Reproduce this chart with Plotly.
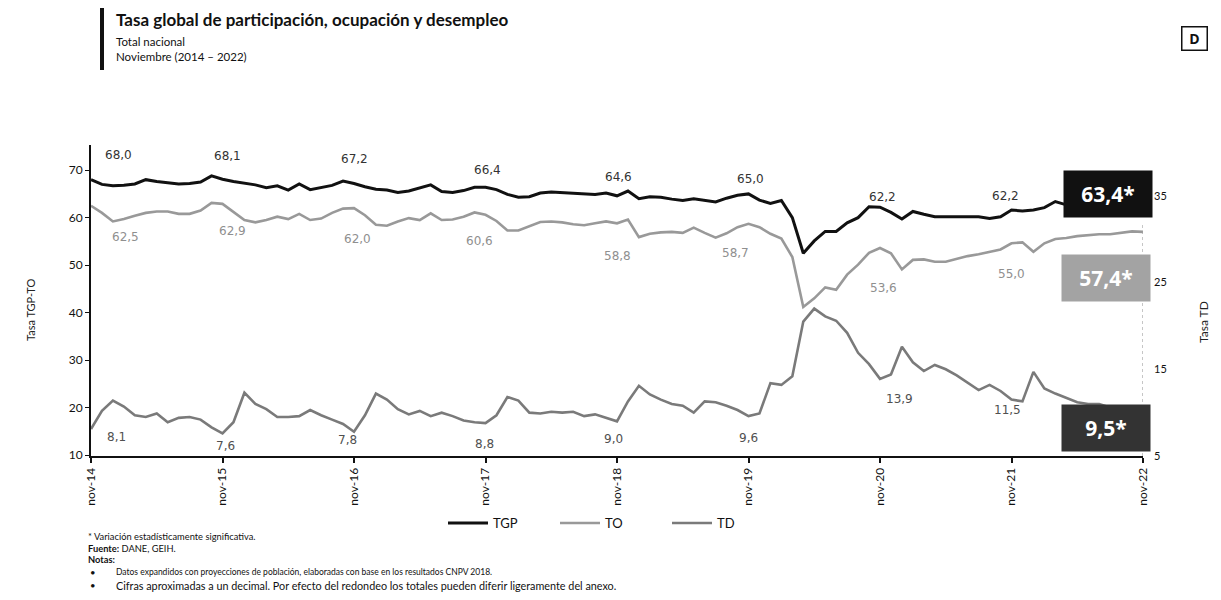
import plotly.graph_objects as go

# ---------------- data ----------------
months = ["ene", "feb", "mar", "abr", "may", "jun", "jul", "ago", "sep", "oct", "nov", "dic"]
periods = []
y, m = 2014, 10
for _ in range(97):
    periods.append(f"{months[m]}-{str(y)[2:]}")
    m += 1
    if m == 12:
        m, y = 0, y + 1

tgp = [68.0, 67.0, 66.7, 66.8, 67.1, 68.0, 67.6, 67.4, 67.1, 67.2, 67.5, 68.8, 68.1, 67.6, 67.3, 66.9,
       66.3, 66.7, 65.8, 67.1, 65.9, 66.3, 66.8, 67.7, 67.2, 66.5, 66.0, 65.8, 65.3, 65.6, 66.3, 66.9, 65.5,
       65.3, 65.7, 66.4, 66.4, 65.9, 64.9, 64.3, 64.4, 65.2, 65.4, 65.3, 65.1, 65.0, 64.9, 65.2, 64.6,
       65.6, 64.0, 64.4, 64.3, 63.9, 63.6, 64.0, 63.6, 63.3, 64.1, 64.7, 65.0,
       63.7, 63.0, 63.6, 60.0, 52.5, 55.1, 57.1, 57.1, 58.9, 60.0, 62.3, 62.2,
       61.1, 59.7, 61.3, 60.7, 60.2, 60.2, 60.2, 60.3, 60.2, 59.8, 60.2, 61.6,
       61.4, 61.6, 62.1, 63.4, 62.7, 63.0, 63.5, 63.8, 64.0, 63.6, 63.5, 63.4]

to = [62.5, 61.0, 59.2, 59.7, 60.4, 61.0, 61.3, 61.3, 60.8, 60.8, 61.5, 63.1, 62.9, 61.2, 59.5, 59.0,
      59.5, 60.2, 59.7, 60.8, 59.5, 59.8, 61.0, 61.9, 62.0, 60.5, 58.5, 58.3, 59.2, 59.9, 59.5, 60.9, 59.5,
      59.6, 60.2, 61.1, 60.6, 59.3, 57.3, 57.3, 58.2, 59.1, 59.2, 59.0, 58.6, 58.4, 58.8, 59.2, 58.8,
      59.6, 55.9, 56.6, 56.9, 57.0, 56.8, 57.9, 56.8, 55.8, 56.7, 58.0, 58.7,
      58.0, 56.6, 55.6, 51.7, 41.2, 43.0, 45.3, 44.8, 48.0, 50.1, 52.6, 53.6,
      52.5, 49.1, 51.1, 51.2, 50.7, 50.7, 51.3, 51.9, 52.3, 52.8, 53.3, 54.6,
      54.8, 52.8, 54.6, 55.5, 55.7, 56.1, 56.3, 56.5, 56.5, 56.8, 57.1, 57.0]

td = [8.1, 10.2, 11.4, 10.7, 9.7, 9.5, 9.9, 8.9, 9.4, 9.5, 9.2, 8.3, 7.6, 8.9, 12.3, 11.0,
      10.4, 9.5, 9.5, 9.6, 10.3, 9.7, 9.2, 8.7, 7.8, 9.7, 12.2, 11.5, 10.4, 9.8, 10.2, 9.6, 10.0,
      9.6, 9.1, 8.9, 8.8, 9.7, 11.8, 11.4, 10.0, 9.9, 10.1, 10.0, 10.1, 9.6, 9.8, 9.4, 9.0,
      11.3, 13.1, 12.1, 11.5, 11.0, 10.8, 10.0, 11.3, 11.2, 10.8, 10.3, 9.6,
      9.9, 13.4, 13.2, 14.2, 20.5, 22.0, 21.1, 20.6, 19.2, 16.9, 15.6, 13.9,
      14.4, 17.6, 15.8, 14.8, 15.5, 15.0, 14.3, 13.5, 12.6, 13.2, 12.5, 11.5,
      11.3, 14.7, 12.8, 12.2, 11.7, 11.2, 11.0, 11.0, 10.6, 10.7, 9.9, 9.5]

# values printed on the chart for each November
tgp_nov_labels = [68.0, 68.1, 67.2, 66.4, 64.6, 65.0, 62.2, 62.2]
to_nov_labels = [62.5, 62.9, 62.0, 60.6, 58.8, 58.7, 53.6, 55.0]
td_nov_labels = [8.1, 7.6, 7.8, 8.8, 9.0, 9.6, 13.9, 11.5]
final_values = [63.4, 57.4, 9.5]

tick_labels = ["nov-14", "nov-15", "nov-16", "nov-17", "nov-18", "nov-19", "nov-20", "nov-21", "nov-22"]

# ---------------- label offsets (pixels, styling only) ----------------
tgp_dx = [27, 5, 0, 2, 1, 2, 2, -6]
tgp_dy = [25, 23, 24, 17, 19, 15, 10, 14]
to_dx = [34, 10, 3, -6, 0, -13, 3, 0]
to_dy = [-31, -27, -31, -26, -33, -29, -40, -31]
td_dx = [25, 3, -7, -1, -4, 0, 19, -4]
td_dy = [-8, -13, -8, -21, -18, -22, -20, -10]

# ---------------- geometry helpers ----------------
OFF = 8  # page body margin
W_FIG, H_FIG = 1221 - 2 * OFF, 600 - 2 * OFF
L, R, T, B = 91, 1143, 145, 456          # plot area in page pixels
PW, PH = R - L, B - T


def px(x):
    return (x - L) / PW


def py(y):
    return (B - y) / PH


FONT = "Open Sans"
xs = list(range(len(periods)))

fig = go.Figure()
fig.add_trace(go.Scatter(x=xs, y=tgp, name="TGP", mode="lines",
                         line=dict(color="#111111", width=3), hovertext=periods))
fig.add_trace(go.Scatter(x=xs, y=to, name="TO", mode="lines",
                         line=dict(color="#999999", width=2.6), hovertext=periods))
fig.add_trace(go.Scatter(x=xs, y=td, name="TD", mode="lines", yaxis="y2",
                         line=dict(color="#7a7a7a", width=2.6), hovertext=periods))

ann = []
nov_idx = list(range(0, 96, 12))


def fmt(v):
    return f"{v:.1f}".replace(".", ",")


for n, k in enumerate(nov_idx):
    ann.append(dict(x=k, y=tgp[k], xref="x", yref="y", text=fmt(tgp_nov_labels[n]), showarrow=False,
                    xanchor="center", yanchor="middle", yshift=tgp_dy[n], xshift=tgp_dx[n],
                    font=dict(family="DejaVu Sans", size=12, color="#333333")))
    ann.append(dict(x=k, y=to[k], xref="x", yref="y", text=fmt(to_nov_labels[n]), showarrow=False,
                    xanchor="center", yanchor="middle", yshift=to_dy[n], xshift=to_dx[n],
                    font=dict(family="DejaVu Sans", size=12, color="#8f8f8f")))
    ann.append(dict(x=k, y=td[k], xref="x", yref="y2", text=fmt(td_nov_labels[n]), showarrow=False,
                    xanchor="center", yanchor="middle", yshift=td_dy[n], xshift=td_dx[n],
                    font=dict(family="DejaVu Sans", size=12, color="#505050")))

# final value boxes
box_specs = [(1108, 194, "#111111"), (1106, 278, "#a3a3a3"), (1106, 428, "#333333")]
for (bx, by, col), v in zip(box_specs, final_values):
    ann.append(dict(x=px(bx), y=py(by), xref="paper", yref="paper", text=f"<b>{fmt(v)}*</b>",
                    xanchor="center", yanchor="middle",
                    showarrow=False, bgcolor=col, width=86, height=44,
                    font=dict(family=FONT, size=21, color="white")))

# titles and texts
ann += [
    dict(x=px(114), y=py(19), xref="paper", yref="paper", xanchor="left", yanchor="middle",
         text="<b>Tasa global de participación, ocupación y desempleo</b>", showarrow=False,
         font=dict(family="Lato", size=17, color="#111111")),
    dict(x=px(114), y=py(41), xref="paper", yref="paper", xanchor="left", yanchor="middle",
         text="Total nacional", showarrow=False, font=dict(family="Lato", size=11.5, color="#111111")),
    dict(x=px(114), y=py(57), xref="paper", yref="paper", xanchor="left", yanchor="middle",
         text="Noviembre (2014 – 2022)", showarrow=False, font=dict(family="Lato", size=11.5, color="#111111")),
    dict(x=px(1194), y=py(38), xref="paper", yref="paper", text="<b>D</b>", showarrow=False,
         xanchor="center", yanchor="middle",
         bordercolor="#111111", borderwidth=1.5, width=20, height=18, borderpad=2,
         font=dict(family=FONT, size=14, color="#111111")),
    dict(x=px(30), y=py(310), xref="paper", yref="paper", text="Tasa TGP-TO", textangle=-90,
         xanchor="center", yanchor="middle",
         showarrow=False, font=dict(family="Lato", size=11, color="#222222")),
    dict(x=px(1203), y=py(322), xref="paper", yref="paper", text="Tasa TD", textangle=-90,
         xanchor="center", yanchor="middle",
         showarrow=False, font=dict(family="Lato", size=12, color="#222222")),
]
foot = [
    (536, "* Variación estadísticamente significativa."),
    (548, "<b>Fuente:</b> DANE, GEIH."),
    (559, "<b>Notas:</b>"),
]
for yy, txt in foot:
    ann.append(dict(x=px(86), y=py(yy), xref="paper", yref="paper", xanchor="left", yanchor="middle",
                    text=txt, showarrow=False, font=dict(family="Lato", size=9.3, color="#111111")))
notes = [
    (572, "Datos expandidos con proyecciones de población, elaboradas con base en los resultados CNPV 2018.", 8.5),
    (585, "Cifras aproximadas a un decimal. Por efecto del redondeo los totales pueden diferir ligeramente del anexo.", 10.8),
]
for yy, txt, fs in notes:
    ann.append(dict(x=px(88), y=py(yy), xref="paper", yref="paper", xanchor="left", yanchor="middle",
                    text="•", showarrow=False, font=dict(family="Lato", size=9.5, color="#111111")))
    ann.append(dict(x=px(114), y=py(yy), xref="paper", yref="paper", xanchor="left", yanchor="middle",
                    text=txt, showarrow=False, font=dict(family="Lato", size=fs, color="#111111")))

shapes = [
    dict(type="rect", xref="paper", yref="paper", x0=px(100), x1=px(104), y0=py(8), y1=py(70),
         fillcolor="#111111", line=dict(width=0)),
    dict(type="line", xref="x", yref="paper", x0=96, x1=96, y0=0, y1=py(225),
         line=dict(color="#a0a0a0", width=1.2, dash="dot")),
]

fig.update_layout(
    width=W_FIG, height=H_FIG,
    margin=dict(l=L - OFF, r=W_FIG - (R - OFF), t=T - OFF, b=H_FIG - (B - OFF), autoexpand=False),
    paper_bgcolor="white", plot_bgcolor="white",
    showlegend=True,
    legend=dict(orientation="h", x=px(443), y=py(523), xanchor="left", yanchor="middle",
                entrywidth=57, entrywidthmode="pixels", itemwidth=40,
                font=dict(family="Lato", size=13, color="#111111"), bgcolor="rgba(0,0,0,0)"),
    xaxis=dict(range=[0, 96], tickmode="array", tickvals=list(range(0, 97, 12)), ticktext=tick_labels,
               tickangle=-90, showline=True, linecolor="#111111", linewidth=2, ticks="outside",
               ticklen=5, tickwidth=1.5, tickcolor="#111111", showgrid=False, zeroline=False,
               tickfont=dict(family="Lato", size=12, color="#111111")),
    yaxis=dict(range=[9.8, 75.3], tickvals=[10, 20, 30, 40, 50, 60, 70], showline=True,
               linecolor="#111111", linewidth=2, ticks="outside", ticklen=4, tickcolor="#111111",
               showgrid=False, zeroline=False, tickfont=dict(family="Lato", size=12, color="#111111")),
    yaxis2=dict(range=[5, 40.87], tickvals=[5, 15, 25, 35], overlaying="y", side="right",
                showline=False, showgrid=False, zeroline=False, ticks="", ticklabelstandoff=10,
                tickfont=dict(family="Lato", size=11, color="#111111")),
    annotations=ann,
    shapes=shapes,
)

fig.write_html("out.html")
